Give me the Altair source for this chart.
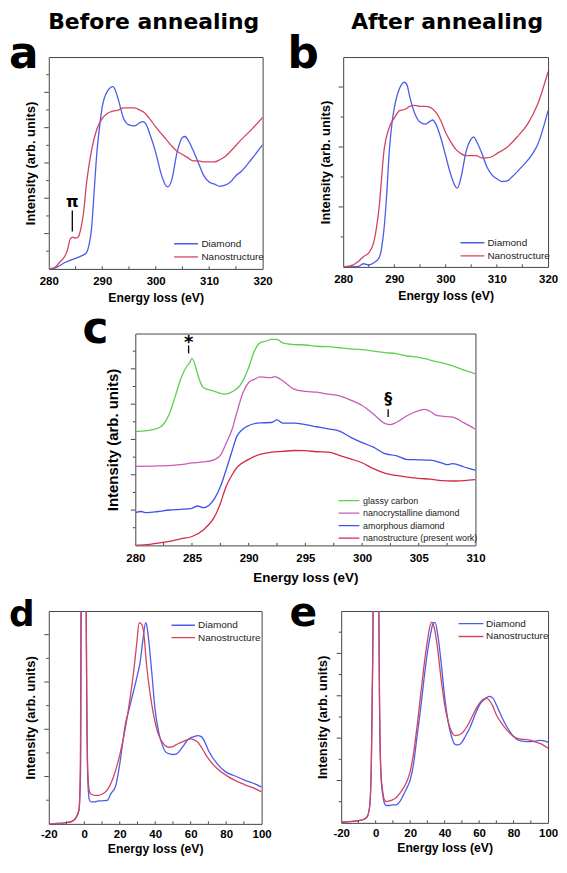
import altair as alt
import pandas as pd

# ---------------- data ----------------
SERIES_AB = ["Diamond", "Nanostructure"]
SERIES_C = ["glassy carbon", "nanocrystalline diamond", "amorphous diamond",
            "nanostructure (present work)"]

# panel a : before annealing, C K-edge
A_DIA_X = [280, 281, 282, 283, 284, 285, 286, 287, 287.5, 288, 288.5, 289, 289.5, 290, 291, 292,
           292.5, 293, 294, 295, 296, 297, 297.5, 298, 299, 300, 301, 302, 302.3, 303, 304, 305,
           305.5, 306, 307, 308, 309, 310, 311, 312, 313, 314, 315, 316, 318, 320]
A_DIA_Y = [0, 0.3, 1.5, 3, 4, 5, 6, 7.5, 11, 19, 37, 55, 67, 76.5, 84, 86,
           84, 80, 71, 68, 67.5, 69, 69.5, 69, 63, 55, 45, 39, 38.7, 42, 55, 62,
           62.5, 61, 56, 50, 44, 41, 40, 39, 39.5, 41, 44, 46, 52, 58.6]
A_NAN_X = [280, 281, 282, 283, 283.5, 284, 284.5, 285, 285.5, 286, 286.5, 287, 287.5, 288, 289,
           290, 291, 292, 293, 294, 295, 296, 297, 298, 299, 300, 301, 302, 303, 304, 305, 306,
           307, 308, 309, 310, 311, 312, 313, 314, 316, 318, 320]
A_NAN_Y = [0, 0.5, 3, 6, 9, 14, 15, 14.5, 15, 19, 26.5, 39, 48.5, 56, 66,
           71, 73.5, 74.5, 75, 76, 76, 76, 75, 73.5, 70.5, 67, 64, 61, 58, 55.5, 54, 52.5,
           51, 51, 50.5, 50.5, 50.5, 51.5, 53, 55.5, 61, 66, 71.5]

# panel b : after annealing, C K-edge
B_DIA_X = [280, 283, 284, 285, 286, 287, 287.5, 288, 288.5, 289, 289.5, 290, 291, 292, 292.5, 293,
           294, 295, 296, 297, 297.5, 298, 299, 300, 301, 302, 302.3, 303, 304, 305, 305.5, 306,
           307, 308, 309, 310, 311, 312, 313, 315, 317, 318, 320]
B_DIA_Y = [0, 0.3, 1.5, 1, 2, 4.3, 9, 18.7, 34.6, 55, 68, 76, 85, 88, 86.4, 81,
           73, 69, 68, 69.5, 70, 68.5, 62, 53, 44, 38, 37.5, 42.6, 55, 61, 62, 60,
           54.6, 48, 44, 42, 40.7, 41, 43, 48, 54, 58.5, 74.5]
B_NAN_X = [280, 282, 283, 284, 285, 286, 287, 288, 289, 290, 291, 292, 293, 294, 295, 296, 297,
           298, 299, 300, 301, 302, 303, 304, 305, 306, 307, 308, 309, 310, 312, 314, 316, 318, 320]
B_NAN_Y = [0, 1, 2.7, 5, 6.7, 12, 28, 56, 66.5, 71, 74.5, 75, 76.5, 77, 76.5, 76.5, 76,
           74, 70, 64, 59.6, 56, 54, 53, 53, 53, 52, 52, 52.5, 54, 57, 62, 68, 77.7, 93]

# panel c : reference spectra
C_GLA_X = [280, 281, 282, 282.5, 283, 283.5, 284, 284.5, 284.8, 285, 285.3, 285.5, 286, 287, 287.8,
           289, 289.5, 290, 290.5, 291, 291.5, 292, 292.5, 293, 294, 295, 296, 297, 298, 299, 300,
           301, 302, 303, 304, 305, 306, 307, 308, 309, 310]
C_GLA_Y = [53.75, 54.2, 55.3, 57.3, 62, 70, 78.4, 84.2, 86.25, 88.3, 84.7, 80.8, 74.5, 72.7, 71.4,
           74.2, 77.8, 84, 91.7, 95.6, 96.4, 97.2, 97.2, 95.6, 94.8, 94.6, 94, 93.8, 93.3, 92.8, 92.4,
           91.7, 91, 90.5, 89.4, 88.8, 87.5, 86.25, 84.7, 82.7, 81]
C_NCD_X = [280, 282, 284, 285, 286, 287, 287.5, 288, 288.5, 289, 289.5, 290, 290.5, 291, 292, 292.3,
           293, 294, 295, 296, 297, 298, 299, 300, 301, 302, 302.5, 303, 304, 305, 305.5, 306,
           306.5, 307, 308, 309, 310]
C_NCD_Y = [37.3, 37.5, 38.1, 38.9, 39.4, 40.5, 42.5, 48, 54.2, 63.6, 72.2, 76.9, 78.4, 79.5, 79.2, 79.7,
           77.7, 73.8, 72.7, 72.3, 71.4, 70.6, 68.6, 66, 62, 57.6, 57, 58, 61.3, 63.6, 64.2, 63.3,
           61.5, 61, 60.5, 57.8, 54.8]
C_AMO_X = [280, 280.5, 281, 282, 283, 284, 285, 285.5, 286, 286.5, 287, 287.5, 288, 288.5, 289, 290,
           291, 292, 292.5, 293, 294, 295, 296, 297, 298, 299, 300, 301, 302, 303, 304, 305, 306,
           307, 307.5, 308, 309, 310]
C_AMO_Y = [15.5, 16, 15.5, 16, 16.7, 17, 17.5, 18.6, 17.8, 19, 22.2, 27.7, 35.5, 44, 51.9, 56.6,
           57.8, 58, 59.2, 57.7, 57.7, 57, 56, 55, 53.9, 51, 48.5, 46.4, 43.3, 42.4, 40.5, 40.4, 40.2,
           38.9, 38.1, 38.6, 37, 35.4]
C_NST_X = [280, 281, 282, 283, 284, 285, 286, 287, 287.5, 288, 288.5, 289, 290, 291, 292, 293, 294,
           295, 296, 297, 298, 299, 300, 301, 302, 303, 304, 305, 306, 307, 308, 309, 310]
C_NST_Y = [0, 0.3, 1.1, 1.9, 3.1, 4.2, 7.3, 13.6, 19.8, 27.7, 33, 37, 40.6, 43, 44, 44.4, 44.8,
           44.7, 44.2, 44, 42.5, 40.8, 39, 36.2, 34.1, 33, 32.2, 31.6, 31.3, 30.6, 30.4, 30.6, 31]

# panel d : low-loss, before annealing (zero-loss peak runs off the top)
D_DIA_X = [-20, -15, -10, -7, -5, -3, -2.5, -2, -1.7, -1, 0, 0.6, 1.1, 1.5, 2, 3, 4, 6, 8, 10, 13,
           15, 17.5, 20, 22, 23, 25, 27.7, 30, 31.5, 33, 34.6, 35.5, 36.5, 38, 40, 42, 44, 46, 48,
           50, 52, 54, 56, 58, 60, 62, 64, 66, 68, 70, 75, 80, 85, 90, 95, 100]
D_DIA_Y = [0, 0.2, 0.6, 1.2, 2.5, 6.4, 12, 30, 100, 300, 500, 300, 100, 50, 20.4, 11, 10.3, 10.3,
           10.8, 10.8, 11, 14.2, 17.3, 28, 40, 46, 53, 62, 70, 76, 86, 94.5, 92, 85, 71.8, 53.2, 43,
           37, 33.7, 32.9, 32.6, 32.9, 34.5, 36.8, 39.2, 40.4, 41, 41.5, 41, 38.4, 34.5, 28.2, 24.3,
           22.5, 20.7, 19.2, 17.3]
D_NAN_X = [-20, -15, -10, -7, -5, -3, -2.5, -2.1, -1.9, -1, 0, 0.6, 1.1, 1.5, 2, 3, 4, 6, 8, 10, 13,
           16, 20.2, 23.9, 26, 27.7, 29.5, 31, 32.3, 33.5, 35.1, 37, 38.9, 41.7, 44, 46.4, 48, 50,
           52, 55, 58, 60, 62, 64, 66, 68, 70, 75, 80, 85, 90, 95, 100]
D_NAN_Y = [0, 0.2, 0.6, 1.2, 2.5, 6.4, 14, 40, 100, 300, 500, 300, 100, 52, 25, 15, 13.9, 13.4, 13.4,
           13.9, 16, 21, 33, 48.5, 60, 70.4, 84, 94.5, 93.8, 90, 75, 62, 52, 42.3, 38.4, 36.3, 36,
           36.3, 37.3, 38.4, 39.5, 39.9, 39.5, 38.4, 36, 33.2, 30.6, 25.9, 22.8, 20.4, 18.6, 17, 15]

# panel e : low-loss, after annealing
E_DIA_X = [-20, -15, -10, -7, -5, -3.5, -2.5, -2, -1.5, -1, 0, 1, 1.85, 2.2, 3, 4, 5, 6, 8, 10, 12,
           14, 16, 18, 20, 22, 24, 26, 28, 30, 32, 33.5, 34.5, 36, 38, 40, 42, 44, 46, 48, 50, 52,
           55, 58, 61, 64, 66, 68, 70, 73, 76, 80, 84, 88, 92, 95, 98, 100]
E_DIA_Y = [0.3, 0.6, 1.1, 1.6, 2.8, 7.6, 28, 60, 100, 300, 500, 300, 100, 60, 23.4, 13.9, 9.5, 8.2,
           8.2, 8.5, 8.5, 10, 13, 16.3, 20.2, 28, 40.8, 53.4, 67.6, 80.3, 89.7, 94.5, 94.5, 89, 75.5,
           59.7, 47.9, 40.8, 37.1, 36.8, 38, 40.8, 45.5, 51.8, 56.6, 58.9, 59.7, 58.9, 55.8, 50.2,
           45.5, 40.8, 38.7, 38.4, 38.5, 38.9, 38.7, 37.9]
E_NAN_X = [-20, -15, -10, -7, -5, -3.5, -2.5, -2, -1.5, -1, 0, 1, 1.85, 2.2, 3, 4, 5, 6, 8, 10, 12,
           14, 16, 18, 20, 22, 24, 26, 28, 30, 31.5, 32.5, 34, 36, 38, 40, 42, 44, 46, 48, 50, 53,
           56, 59, 62, 64, 66, 68, 70, 73, 76, 80, 84, 88, 92, 96, 100]
E_NAN_Y = [0.3, 0.6, 1.1, 1.6, 2.8, 7.6, 28, 60, 100, 300, 500, 300, 100, 62, 25, 15.5, 11, 10.1,
           10.4, 11, 12, 13.9, 16.3, 19.4, 24.2, 32.9, 45.5, 59.7, 73.9, 85.8, 92.9, 94.8, 92.1, 81.8,
           67.6, 55.8, 47.9, 43.1, 41.2, 41.4, 42.3, 45.5, 50.2, 55, 58.1, 58.9, 57.8, 55, 51, 47.1,
           43.9, 40.8, 39.5, 39.3, 38.4, 37.3, 35.2]

X_LABELS_AB = [280, 290, 300, 310, 320]
X_LABELS_C = [280, 285, 290, 295, 300, 305, 310]
X_LABELS_DE = [-20, 0, 20, 40, 60, 80, 100]
X_MINOR_AB = [285, 290, 295, 300, 305, 310, 315]
X_MINOR_C = [282.5, 285, 287.5, 290, 292.5, 295, 297.5, 300, 302.5, 305, 307.5]
X_MINOR_DE = [-10, 0, 10, 20, 30, 40, 50, 60, 70, 80, 90]

# annotations (x in eV, y in % of panel height)
PI_NOTE = {"x": [284.4], "y": [29.1], "y1": [17.7], "y2": [27.6], "label": ["π"]}
STAR_NOTE = {"x": [284.7], "y": [93.0], "y1": [90.6], "y2": [94.4], "label": ["*"]}
SECT_NOTE = {"x": [302.3], "y": [66.7], "y1": [60.6], "y2": [64.3], "label": ["§"]}

BLUE, RED = "#4c5ce8", "#d4445f"
C_COLORS = ["#5fcf4f", "#c95cb5", "#3f52ea", "#d42a48"]
FRAME = "#454545"
SANS = "Liberation Sans"
BIG = "DejaVu Sans"


def one(v):
    return pd.DataFrame({"t": [v]})


def panel(curves, names, colors, xdom, xlabels, xminor, nint, w, h, box, letter,
          legend, ytitle_pad, axis_fonts, pads, title=None, notes=()):
    rows = []
    for name, (xs, ys) in zip(names, curves):
        rows += [{"x": x, "y": y, "series": name} for x, y in zip(xs, ys)]
    df = pd.DataFrame(rows)
    xscale = alt.Scale(domain=xdom, nice=False, zero=False)
    yscale = alt.Scale(domain=[0, 100], nice=False, zero=False)
    lab_fs, xt_fs, yt_fs = axis_fonts
    lab_pad, tit_pad = pads
    lx, ly, lsym, loff, lfs, lrow = legend
    xaxis = alt.Axis(values=xlabels, labelExpr="'' + datum.value", labelFont=SANS,
                     labelFontWeight="bold", labelFontSize=lab_fs, labelColor="black",
                     labelPadding=lab_pad, labelFlush=False, labelOverlap=False,
                     ticks=False, tickSize=0, domain=False, grid=False,
                     title="Energy loss (eV)", titleFont=SANS, titleFontWeight="bold",
                     titleFontSize=xt_fs, titleColor="black", titlePadding=tit_pad)
    yaxis = alt.Axis(labels=False, ticks=False, domain=False, grid=False,
                     title="Intensity (arb. units)", titleFont=SANS, titleFontWeight="bold",
                     titleFontSize=yt_fs, titleColor="black", titlePadding=ytitle_pad)
    lines = alt.Chart(df).mark_line(clip=True, strokeWidth=1.3, interpolate="monotone").encode(
        x=alt.X("x:Q", scale=xscale, axis=xaxis),
        y=alt.Y("y:Q", scale=yscale, axis=yaxis),
        color=alt.Color("series:N", scale=alt.Scale(domain=names, range=colors),
                        legend=alt.Legend(orient="none", legendX=lx, legendY=ly, title=None,
                                          symbolType="stroke", symbolSize=lsym,
                                          symbolStrokeWidth=1.3, labelOffset=loff,
                                          labelFont=SANS, labelFontSize=lfs, labelColor="#222",
                                          rowPadding=lrow, padding=0, clipHeight=lfs)),
    )
    majors = [100.0 * k / nint for k in range(1, int(nint) + 1) if 100.0 * k / nint < 99.9]
    minors = [100.0 * (k + 0.5) / nint for k in range(0, int(nint) + 1)
              if 100.0 * (k + 0.5) / nint < 99.9]
    tmaj = alt.Chart(pd.DataFrame({"v": majors})).mark_rule(color=FRAME, strokeWidth=1).encode(
        y=alt.Y("v:Q", scale=yscale, axis=yaxis), x=alt.value(0), x2=alt.value(-4.5))
    tmin = alt.Chart(pd.DataFrame({"v": minors})).mark_rule(color=FRAME, strokeWidth=1).encode(
        y=alt.Y("v:Q", scale=yscale, axis=yaxis), x=alt.value(0), x2=alt.value(-2.5))
    tbot = alt.Chart(pd.DataFrame({"v": xminor})).mark_rule(color=FRAME, strokeWidth=1).encode(
        x=alt.X("v:Q", scale=xscale, axis=xaxis), y=alt.value(h), y2=alt.value(h - 2.5))
    ltxt, lxp, lyp, lsize = letter
    let = alt.Chart(one(ltxt)).mark_text(font=BIG, fontWeight="bold", fontSize=lsize,
                                         align="left", baseline="alphabetic",
                                         color="black").encode(
        text="t:N", x=alt.value(lxp), y=alt.value(lyp))
    bx1, by1, bx2, by2 = box
    ext = alt.Chart(one(0)).mark_rule(opacity=0).encode(
        x=alt.value(bx1), y=alt.value(by1), x2=alt.value(bx2), y2=alt.value(by2))
    layers = [lines, tmaj, tmin, tbot, let, ext]
    if title is not None:
        ttxt, tx, ty = title
        layers.append(alt.Chart(one(ttxt)).mark_text(font=BIG, fontWeight="bold", fontSize=22,
                                                     align="center", baseline="alphabetic",
                                                     color="black").encode(
            text="t:N", x=alt.value(tx), y=alt.value(ty)))
    for note, fs in notes:
        ndf = pd.DataFrame(note)
        layers.append(alt.Chart(ndf).mark_rule(color="black", strokeWidth=1.3).encode(
            x=alt.X("x:Q", scale=xscale, axis=xaxis), y=alt.Y("y1:Q", scale=yscale, axis=yaxis),
            y2="y2:Q"))
        layers.append(alt.Chart(ndf).mark_text(font=BIG, fontWeight="bold", fontSize=fs,
                                               align="center", baseline="alphabetic",
                                               color="black").encode(
            x=alt.X("x:Q", scale=xscale, axis=xaxis), y=alt.Y("y:Q", scale=yscale, axis=yaxis),
            text="label:N"))
    return alt.layer(*layers).properties(width=w, height=h)


# row 1 (plot tops at page y 54; a at x 48, b at x 342)
pa = panel([(A_DIA_X, A_DIA_Y), (A_NAN_X, A_NAN_Y)], SERIES_AB, [BLUE, RED], [280, 320],
           X_LABELS_AB, X_MINOR_AB, 6, 215, 213, (-40, -46, 228, 251), ("a", -40, 11, 44),
           (125, 182.7, 576, 2.5, 10, 3.3), 11.5, (11.5, 12.3, 13), (6.2, 5.5),
           title=("Before annealing", 105.5, -28), notes=[(PI_NOTE, 16)])
pb = panel([(B_DIA_X, B_DIA_Y), (B_NAN_X, B_NAN_Y)], SERIES_AB, [BLUE, RED], [280, 320],
           X_LABELS_AB, X_MINOR_AB, 3.5, 206, 211, (-66, -46, 216, 251), ("b", -56, 11, 44),
           (117, 181.7, 576, 2, 10, 3.3), 10.3, (11.5, 12.3, 13), (6.2, 5.5),
           title=("After annealing", 104.5, -28))
# row 2 (plot top at page y 330, left at 134 via spacer)
pc = panel([(C_GLA_X, C_GLA_Y), (C_NCD_X, C_NCD_Y), (C_AMO_X, C_AMO_Y), (C_NST_X, C_NST_Y)],
           SERIES_C, C_COLORS, [280, 310], X_LABELS_C, X_MINOR_C, 6, 342, 213,
           (-53, -25, 420, 253), ("c", -53, 10, 44), (203.3, 163.5, 441, 2.7, 9, 2.55), 15,
           (11.5, 13.5, 15), (7.5, 6), notes=[(STAR_NOTE, 18), (SECT_NOTE, 16)])
spacer = alt.Chart(one(0)).mark_rule(opacity=0).encode(
    x=alt.value(0), y=alt.value(0), x2=alt.value(1), y2=alt.value(1)
).properties(width=33, height=1, view=alt.ViewBackground(stroke="transparent", strokeWidth=0))
# row 3 (plot tops at page y 607; d at x 48, e at x 340)
pdd = panel([(D_DIA_X, D_DIA_Y), (D_NAN_X, D_NAN_Y)], SERIES_AB, [BLUE, RED], [-20, 100],
            X_LABELS_DE, X_MINOR_DE, 4.5, 214, 214, (-40, -24, 228, 245), ("d", -40, 15, 36),
            (122.7, 9.3, 557, 2.4, 10, 2.4), 11.5, (11.5, 12.3, 13), (4.5, 2.5))
pe = panel([(E_DIA_X, E_DIA_Y), (E_NAN_X, E_NAN_Y)], SERIES_AB, [BLUE, RED], [-20, 100],
           X_LABELS_DE, X_MINOR_DE, 5, 208, 213, (-64, -24, 218, 245), ("e", -52, 15, 41),
           (117, 7.6, 625, 1.6, 10, 3), 11.8, (11.5, 12.3, 13), (4.5, 2.5))

row1 = alt.hconcat(pa, pb, spacing=0).resolve_scale(color="independent")
row2 = alt.hconcat(spacer, pc, spacing=0).resolve_scale(color="independent")
row3 = alt.hconcat(pdd, pe, spacing=0).resolve_scale(color="independent")
chart = (alt.vconcat(row1, row2, row3, spacing=0)
         .resolve_scale(color="independent")
         .properties(padding=0)
         .configure_view(stroke=FRAME, strokeWidth=1))

chart.save("out.html", embed_options={"renderer": "svg", "actions": False})
